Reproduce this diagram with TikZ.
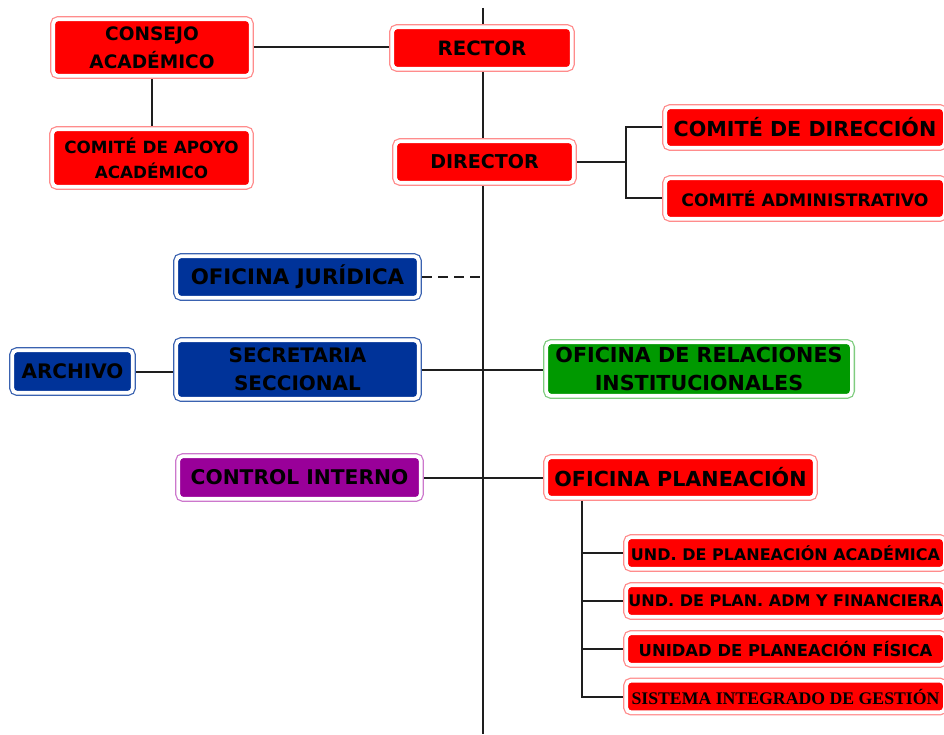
\documentclass[tikz,border=0pt]{standalone}
\usepackage{fontspec}
\setmainfont{DejaVu Sans}
\newfontfamily\serifbf{Liberation Serif}
\definecolor{redf}{HTML}{FF0000}
\definecolor{redb}{HTML}{FF8C8C}
\definecolor{bluef}{HTML}{003399}
\definecolor{blueb}{HTML}{3A62B0}
\definecolor{greenf}{HTML}{009900}
\definecolor{greenb}{HTML}{7FCC7F}
\definecolor{purf}{HTML}{990099}
\definecolor{purb}{HTML}{CC77CC}
\definecolor{linec}{HTML}{1E1E1E}
\begin{document}
\begin{tikzpicture}[x=0.75pt,y=-0.75pt,
  conn/.style={draw=linec, line width=1.5pt},
  boxbase/.style={rounded corners=3.75pt, inner sep=0pt, align=center, text=black,
    line width=2.8pt, draw=white, outer sep=2.4pt},
  redbox/.style={boxbase, fill=redf, preaction={draw=redb, line width=4.7pt}},
  bluebox/.style={boxbase, fill=bluef, preaction={draw=blueb, line width=4.7pt}},
  greenbox/.style={boxbase, fill=greenf, preaction={draw=greenb, line width=4.7pt}},
  purbox/.style={boxbase, fill=purf, preaction={draw=purb, line width=4.7pt}},
  sz/.style 2 args={minimum width={(#1-6.3)*0.75pt}, minimum height={(#2-6.3)*0.75pt}},
  fs/.style={font=\bfseries\fontsize{#1}{21}\selectfont},
]
\useasboundingbox (0,0) rectangle (944,734);
\clip (0,0) rectangle (944,734);

\coordinate (top) at (483,8);
\coordinate (bot) at (483,734);
\draw[conn] (top) -- (bot);

\node[redbox, sz={204}{63}, fs=13.9] (consejo) at (152,47.5) {CONSEJO\\ACADÉMICO};
\node[redbox, sz={205}{64}, font=\bfseries\fontsize{12.6}{19}\selectfont] (apoyo) at (151.5,158) {COMITÉ DE APOYO\\ACADÉMICO};
\node[redbox, sz={186}{48}, fs=14.8] (rector) at (482,48) {RECTOR};
\node[redbox, sz={185}{48}, fs=14.3] (director) at (484.5,162) {DIRECTOR};
\node[redbox, sz={286}{47}, fs=15.5] (cdir) at (805,127.5) {COMITÉ DE DIRECCIÓN};
\node[redbox, sz={286}{47}, fs=12.9] (cadm) at (805,198.5) {COMITÉ ADMINISTRATIVO};
\node[bluebox, sz={249}{48}, fs=16] (jur) at (297.5,277) {OFICINA JURÍDICA};
\node[bluebox, sz={127}{49}, fs=15] (arch) at (72.5,371.5) {ARCHIVO};
\node[bluebox, sz={249}{65}, fs=15] (secr) at (297.5,369.5) {SECRETARIA\\SECCIONAL};
\node[purbox, sz={249}{49}, fs=15.2] (ctrl) at (299.5,477.5) {CONTROL INTERNO};
\node[greenbox, sz={312}{60}, fs=15.5] (rel) at (699,369) {OFICINA DE RELACIONES\\INSTITUCIONALES};
\node[redbox, sz={275}{47}, fs=15.5] (plan) at (680.5,477.5) {OFICINA PLANEACIÓN};
\node[redbox, sz={325}{38}, fs=12] (u1) at (785.5,553) {UND. DE PLANEACIÓN ACADÉMICA};
\node[redbox, sz={325}{38}, fs=12] (u2) at (785.5,601) {UND. DE PLAN. ADM Y FINANCIERA};
\node[redbox, sz={325}{38}, fs=12.3] (u3) at (785.5,649) {UNIDAD DE PLANEACIÓN FÍSICA};
\node[redbox, sz={325}{38}, font=\serifbf\bfseries\fontsize{13.3}{16}\selectfont] (u4) at (785.5,696.5) {SISTEMA INTEGRADO DE GESTIÓN};

\draw[conn] (consejo.east) -- (consejo.east -| rector.west);
\draw[conn] (consejo.south) -- (consejo.south |- apoyo.north);
\coordinate (dj) at (626,162);
\draw[conn] (director.east) -- (dj);
\draw[conn] (cdir.west) -| (dj) |- (cadm.west);
\coordinate (jj) at (483,277);
\draw[conn, dash pattern=on 7.5pt off 4.5pt] (jur.east) -- (jj);
\draw[conn] (arch.east) -- (arch.east -| secr.west);
\draw[conn] (secr.east) -- (secr.east -| rel.west);
\draw[conn] (ctrl.east) -- (plan.west);
\coordinate (pj) at (582,696.5);
\draw[conn] (plan.south -| pj) -- (pj) -- (u4.west);
\draw[conn] (u1.west -| pj) -- (u1.west);
\draw[conn] (u2.west -| pj) -- (u2.west);
\draw[conn] (u3.west -| pj) -- (u3.west);
\end{tikzpicture}
\end{document}
